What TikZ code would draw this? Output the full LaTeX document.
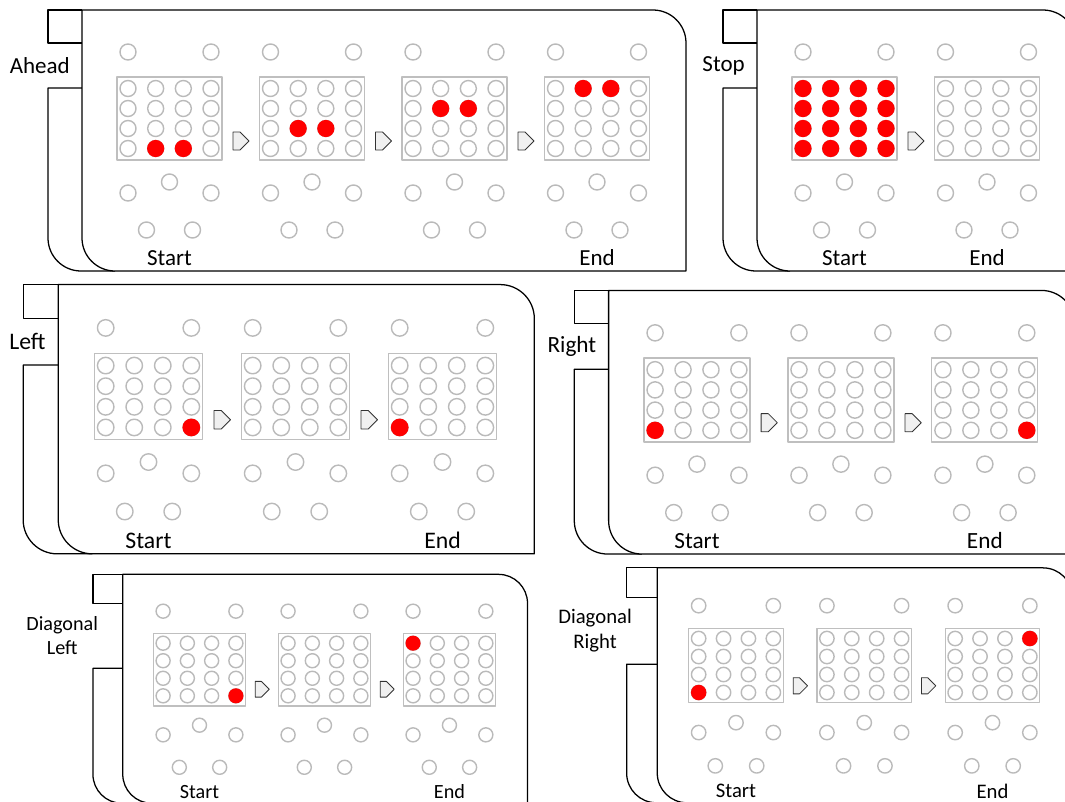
\documentclass[tikz,border=0pt]{standalone}
\usepackage{fontspec}
\setmainfont{Carlito}
\usepackage{tikz}

\begin{document}
\begin{tikzpicture}[x=0.75pt, y=-0.75pt, line join=round,
    every node/.style={align=center, inner sep=0pt, transform shape, font=\fontsize{17.25}{20.5}\selectfont},
    folder/.style={draw=black, line width=0.95pt},
    led/.style={draw=black!27, line width=1.05pt},
    ledbox/.style={draw=black!25, line width=0.9pt},
    ledon/.style={fill=red},
    nextarrow/.style={draw=black!80, fill=black!6, line width=0.6pt}]
  \useasboundingbox (0,0) rectangle (1065,801);
  \clip (0,0) rectangle (1065,801);
  % first frame centre, scale, frames, tab gap, label anchor, label, lit leds (frame/col/row)
  \foreach \px/\py/\s/\n/\gb/\lx/\lab/\reds [count=\i] in {
      169.5/118.5/1/4/-30.5/-99.5/Ahead/{0/2/4,0/3/4,1/2/3,1/3/3,2/2/2,2/3/2,3/2/1,3/3/1},
      844.5/118.5/1/2/-30.5/-99.5/Stop/{0/1/1,0/2/1,0/3/1,0/4/1,0/1/2,0/2/2,0/3/2,0/4/2,0/1/3,0/2/3,0/3/3,0/4/3,0/1/4,0/2/4,0/3/4,0/4/4},
      148.5/396.5/1.0316/3/-30.5/-99.5/Left/{0/4/4,2/1/4},
      697/400/1.01/3/-30.5/-99.5/Right/{0/1/4,2/4/4},
      199.5/669.5/0.877/3/-1.5/-115.5/{Diagonal\\Left}/{0/4/4,2/1/1},
      736/665.5/0.9/3/-1.5/-115.5/{Diagonal\\Right}/{0/1/4,2/4/1}} {
    \begin{scope}[shift={(\px,\py)}, scale=\s]
      \pgfmathsetmacro\R{(\n-1)*142.5+89}
      \pgfmathtruncatemacro\nn{\n-1}
      % folder behind
      \draw[folder] (-87.5,-75.5) -- (-121.5,-75.5) -- (-121.5,-108.5) -- (-87.5,-108.5);
      \draw[folder] (-87.5,\gb) -- (-121.5,\gb) -- (-121.5,119.5)
        .. controls (-121.5,137.7) and (-106.7,152.5) .. (-88.5,152.5) -- (-54.5,152.5);
      % folder front
      \draw[folder, fill=white] (-87.5,-108.5) -- (\R-33,-108.5)
        .. controls (\R-14.8,-108.5) and (\R,-93.7) .. (\R,-75.5) -- (\R,152.5) -- (-54.5,152.5)
        .. controls (-72.7,152.5) and (-87.5,137.7) .. (-87.5,119.5) -- cycle;
      \node[anchor=east] (lab\i) at (\lx,{(\gb-75.5)/2}) {\lab};
      \foreach \f in {0,...,\nn} {
        \begin{scope}[shift={(\f*142.5,0)}]
          \draw[ledbox] (-52.5,-41.5) rectangle (52.5,41.5);
          \foreach \c in {1,...,4}
            \foreach \r in {1,...,4}
              \draw[led] ({(\c-2.5)*27.67},{(\r-2.5)*20}) circle (8);
          \foreach \x/\y in {-41.5/-66.5, 41.5/-66.5, -41.5/74.5, 0/63.5, 41.5/74.5, -23/111.5, 23/111.5}
            \draw[led] (\x,\y) circle (8);
          \ifnum\f<\nn
            \draw[nextarrow] (63.5,13.5) -- (70.5,13.5) -- (79.5,22.5) -- (70.5,31.5) -- (63.5,31.5) -- cycle;
          \fi
        \end{scope}
      }
      \foreach \f/\c/\r in \reds
        \fill[ledon] ({\f*142.5+(\c-2.5)*27.67},{(\r-2.5)*20}) circle (8.6);
      \node (start\i) at (0,139.5) {Start};
      \node (end\i) at ({\nn*142.5},139.5) {End};
    \end{scope}
  }
\end{tikzpicture}
\end{document}
